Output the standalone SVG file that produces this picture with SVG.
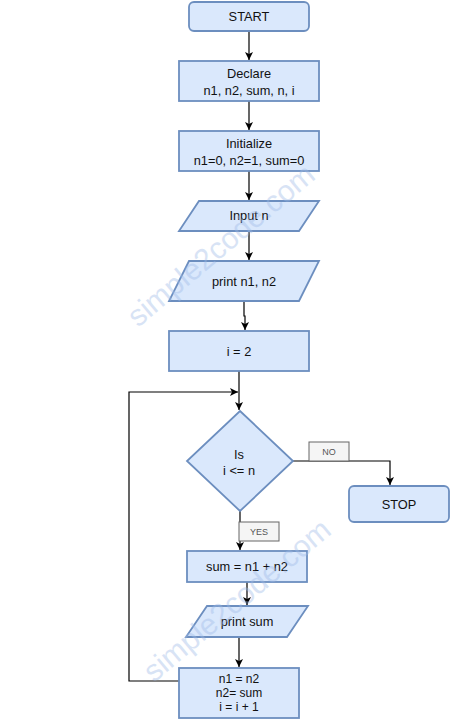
<svg xmlns="http://www.w3.org/2000/svg" width="451" height="719" viewBox="0 0 451 719">
<defs>
<marker id="arr" markerWidth="10" markerHeight="10" refX="8" refY="5" orient="auto" markerUnits="userSpaceOnUse">
<path d="M0,1 L8,5 L0,9 L2,5 Z" fill="#000"/>
</marker>
</defs>
<style>
.n{fill:#dae8fc;stroke:#6c8ebf;stroke-width:1.8}
.t{font-family:"Liberation Sans",Arial,sans-serif;font-size:12.8px;fill:#111;text-anchor:middle}
.s{font-size:12px}
.c{fill:none;stroke:#000;stroke-width:1.2}
.lb{fill:#f5f5f5;stroke:#666;stroke-width:1}
.lt{font-family:"Liberation Sans",Arial,sans-serif;font-size:9px;fill:#555;text-anchor:middle}
.wm{font-family:"Liberation Sans",Arial,sans-serif;font-size:30px;fill:#9fbbe8;opacity:0.4}
</style>
<rect width="451" height="719" fill="#fff"/>
<g id="connectors">
<path class="c" d="M249,31 V60" marker-end="url(#arr)"/>
<path class="c" d="M249,101 V130" marker-end="url(#arr)"/>
<path class="c" d="M249,171 V200" marker-end="url(#arr)"/>
<path class="c" d="M249,231 V260" marker-end="url(#arr)"/>
<path class="c" d="M244,301 V316 H245 V330" marker-end="url(#arr)"/>
<path class="c" d="M239,371 V410" marker-end="url(#arr)"/>
<path class="c" d="M179,681 H129 V392 H238" marker-end="url(#arr)"/>
<path class="c" d="M293,461 H390 V485" marker-end="url(#arr)"/>
<path class="c" d="M240,511 V550" marker-end="url(#arr)"/>
<path class="c" d="M247,582 V605" marker-end="url(#arr)"/>
<path class="c" d="M239,637 V667" marker-end="url(#arr)"/>
<g id="label-no"><rect class="lb" x="309" y="442" width="40" height="19"/><text class="lt" x="329" y="455">NO</text></g>
<g id="label-yes"><rect class="lb" x="239" y="522" width="40" height="19"/><text class="lt" x="259" y="535">YES</text></g>
</g>
<g id="start"><rect class="n" x="189" y="2" width="120" height="29" rx="5"/><text class="t" x="249" y="21">START</text></g>
<g id="declare"><rect class="n" x="179" y="61" width="140" height="40"/><text class="t" x="249" y="78">Declare</text><text class="t" x="249" y="95">n1, n2, sum, n, i</text></g>
<g id="initialize"><rect class="n" x="179" y="131" width="140" height="40"/><text class="t" x="249" y="148">Initialize</text><text class="t" x="249" y="165">n1=0, n2=1, sum=0</text></g>
<g id="input"><polygon class="n" points="199,201 319,201 299,231 179,231"/><text class="t" x="249" y="220">Input n</text></g>
<g id="print12"><polygon class="n" points="189,261 319,261 299,301 169,301"/><text class="t" x="244" y="286">print n1, n2</text></g>
<g id="i2"><rect class="n" x="169" y="331" width="140" height="40"/><text class="t" x="239" y="356">i = 2</text></g>
<g id="decision"><polygon class="n" points="240,411 293,461 240,511 187,461"/><text class="t" x="239" y="459">Is</text><text class="t" x="239" y="475">i &lt;= n</text></g>
<g id="stop"><rect class="n" x="349" y="486" width="100" height="36" rx="5"/><text class="t" x="399" y="509">STOP</text></g>
<g id="sum"><rect class="n" x="187" y="551" width="120" height="31"/><text class="t" x="247" y="571">sum = n1 + n2</text></g>
<g id="printsum"><polygon class="n" points="207,606 308,606 287,637 186,637"/><text class="t" x="247" y="626">print sum</text></g>
<g id="update"><rect class="n" x="179" y="668" width="120" height="50"/><text class="t s" x="239" y="683">n1 = n2</text><text class="t s" x="239" y="697">n2= sum</text><text class="t s" x="239" y="711">i = i + 1</text></g>
<g id="watermark">
<text class="wm" transform="translate(138,328) rotate(-40)">simple2code.com</text>
<text class="wm" transform="translate(154,683) rotate(-40)">simple2code.com</text>
</g>
</svg>
